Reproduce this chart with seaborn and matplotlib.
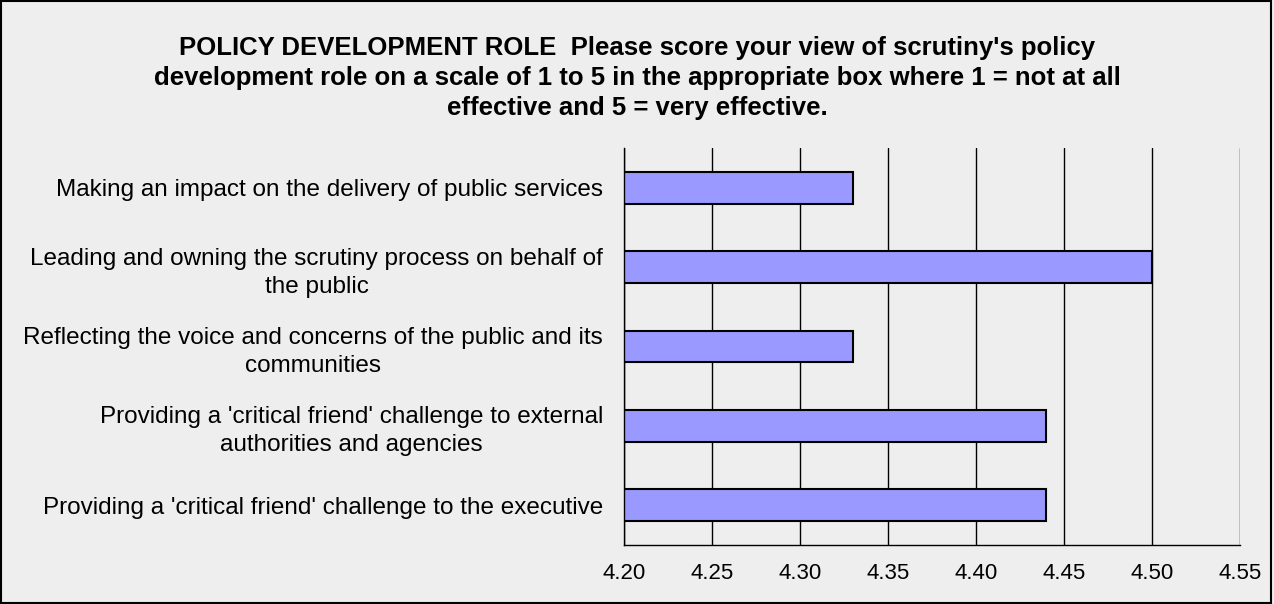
import matplotlib
matplotlib.use('Agg')
import matplotlib.pyplot as plt
import seaborn as sns
import pandas as pd
import numpy as np
from matplotlib.patches import Rectangle

# survey items, top to bottom
items = ["Making an impact on the delivery of public services",
         "Leading and owning the scrutiny process on behalf of\nthe public",
         "Reflecting the voice and concerns of the public and its\ncommunities",
         "Providing a 'critical friend' challenge to external\nauthorities and agencies",
         "Providing a 'critical friend' challenge to the executive"]
scores = [4.33, 4.50, 4.33, 4.44, 4.44]
xticks = [4.20, 4.25, 4.30, 4.35, 4.40, 4.45, 4.50, 4.55]

title = ("POLICY DEVELOPMENT ROLE  Please score your view of scrutiny's policy\n"
         "development role on a scale of 1 to 5 in the appropriate box where 1 = not at all\n"
         "effective and 5 = very effective.")

sns.set_style('white')
plt.rcParams['font.family'] = ['Liberation Sans', 'DejaVu Sans']
plt.rcParams['text.color'] = 'black'
plt.rcParams['xtick.color'] = 'black'
plt.rcParams['ytick.color'] = 'black'

bg = '#EEEEEE'
df = pd.DataFrame({'item': items, 'score': scores})

fig = plt.figure(figsize=(12.74, 6.04), dpi=100, facecolor=bg)
ax = fig.add_axes([0.4898, 0.0977, 0.9733 - 0.4898, 0.755 - 0.0977])
ax.set_facecolor(bg)

sns.barplot(data=df, x='score', y='item', orient='h', color='#9999FF',
            saturation=1, width=0.4, edgecolor='black', linewidth=1.5, ax=ax)

ax.set_xlim(4.20, 4.55)
ax.set_ylim(4.5, -0.5)
ax.set_xticks(xticks)
ax.set_xticklabels(['%.2f' % v for v in xticks], fontsize=16)
ax.set_xlabel('')
ax.set_ylabel('')
ax.grid(axis='x', color='black', linewidth=1)
ax.grid(axis='y', visible=False)
ax.set_axisbelow(True)

ax.tick_params(axis='y', which='major', length=0, pad=15, labelsize=17.5)
ax.set_yticks(np.arange(-0.5, 5, 1), minor=True)
ax.tick_params(axis='y', which='minor', length=7, width=1, color='#444444', direction='out')
ax.tick_params(axis='x', length=7, width=1, direction='out', pad=6)
for t in ax.get_yticklabels():
    t.set_multialignment('center')
    t.set_linespacing(1.35)

for s in ['top', 'right']:
    ax.spines[s].set_visible(False)
for s in ['left', 'bottom']:
    ax.spines[s].set_color('black')
    ax.spines[s].set_linewidth(1)

fig.text(0.5, 0.94, title, ha='center', va='top', fontsize=18.5, fontweight='bold',
         linespacing=1.3)

fig.patches.append(Rectangle((0.001, 0.002), 0.997, 0.996, transform=fig.transFigure,
                             fill=False, edgecolor='black', linewidth=1.5))

fig.savefig('out.png', dpi=100, facecolor=bg)
